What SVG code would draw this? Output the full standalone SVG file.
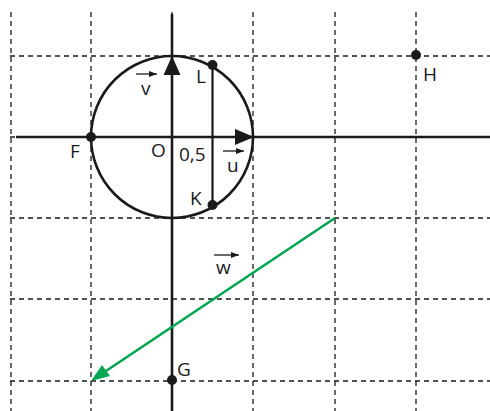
<svg xmlns="http://www.w3.org/2000/svg" width="490" height="411" viewBox="0 0 490 411">
<defs>
<style>
.grid{stroke:#1a1a1a;stroke-width:1.3;stroke-dasharray:5 4;fill:none}
.ax{stroke:#1a1a1a;stroke-width:2.6;fill:none}
.lbl{font-family:"Open Sans","Liberation Sans",sans-serif;font-size:19px;fill:#1a1a1a}
.dot{fill:#1a1a1a}
.vec{stroke:#1a1a1a;stroke-width:1.3}
.green{stroke:#00a651;stroke-width:2.6;fill:none}
</style>
<marker id="sa" markerWidth="8" markerHeight="6" refX="8" refY="3" orient="auto" markerUnits="userSpaceOnUse">
<path d="M0,0 L8,3 L0,6 Z" fill="#1a1a1a"/>
</marker>
</defs>
<rect width="490" height="411" fill="#fff"/>
<g id="grid">
<path class="grid" d="M11,12V411M91,12V411M172,12V411M253,12V411M335,12V411M416,12V411"/>
<path class="grid" d="M10,56H490M10,137H490M10,218H490M10,299H490M10,381H490"/>
</g>
<g id="axes">
<path class="ax" d="M16,137H490M172,14V411"/>
<path d="M172,56 L163.5,75 L180.5,75 Z" fill="#1a1a1a"/>
<path d="M254,137 L235,129 L235,145 Z" fill="#1a1a1a"/>
</g>
<g id="circle">
<circle class="ax" cx="172" cy="137" r="81"/>
</g>
<g id="connectors">
<line x1="212.5" y1="65" x2="212.5" y2="205" stroke="#1a1a1a" stroke-width="2.2"/>
<line class="green" x1="335" y1="218" x2="100" y2="375"/>
<path d="M91,381 L102,365 L110,376 Z" fill="#00a651"/>
</g>
<g id="L"><circle class="dot" cx="212.5" cy="65" r="5"/><text class="lbl" x="196" y="83">L</text></g>
<g id="K"><circle class="dot" cx="212.5" cy="205" r="5"/><text class="lbl" x="190" y="205">K</text></g>
<g id="F"><circle class="dot" cx="91" cy="137" r="5"/><text class="lbl" x="70" y="158">F</text></g>
<g id="H"><circle class="dot" cx="416" cy="55" r="5"/><text class="lbl" x="423" y="81">H</text></g>
<g id="G"><circle class="dot" cx="172" cy="380" r="5"/><text class="lbl" x="177" y="376">G</text></g>
<g id="O"><text class="lbl" x="151" y="157">O</text></g>
<g id="half"><text class="lbl" x="179" y="161">0,5</text></g>
<g id="v"><line class="vec" x1="136" y1="74" x2="157" y2="74" marker-end="url(#sa)"/><text class="lbl" x="141" y="95">v</text></g>
<g id="u"><line class="vec" x1="223" y1="151" x2="244" y2="151" marker-end="url(#sa)"/><text class="lbl" x="227" y="172">u</text></g>
<g id="w"><line class="vec" x1="214" y1="255" x2="239" y2="255" marker-end="url(#sa)"/><text class="lbl" x="216" y="274">w</text></g>
</svg>
